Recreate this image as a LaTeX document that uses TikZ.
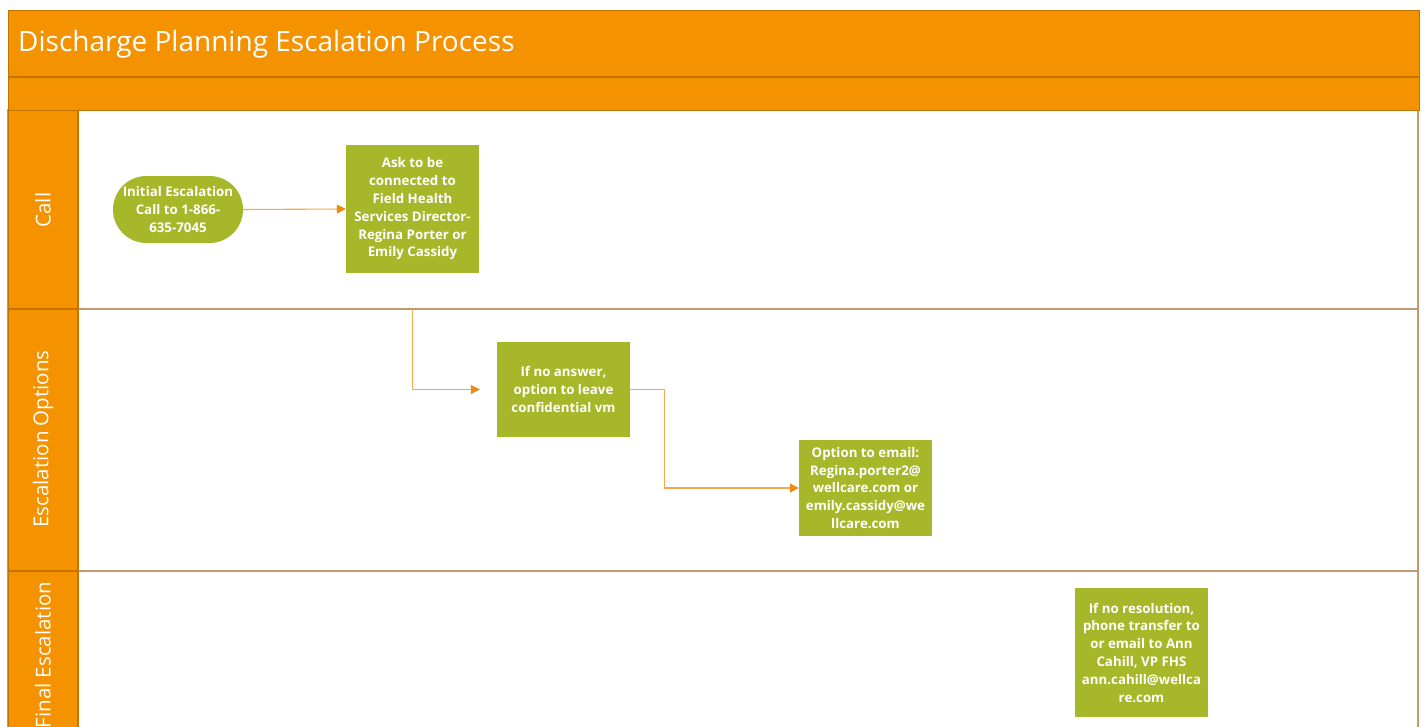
\documentclass[tikz,border=0pt]{standalone}
\usepackage{fontspec}
\setmainfont{Open Sans}
\usetikzlibrary{arrows.meta,shapes.misc}
\definecolor{hdr}{HTML}{F49200}
\definecolor{hdredge}{HTML}{C27300}
\definecolor{lanebr}{HTML}{BF9A70}
\definecolor{boxg}{HTML}{A6B72A}
\definecolor{conn}{HTML}{F6A84E}
\definecolor{tip}{HTML}{EE8A12}
\tikzset{
  boxstyle/.style={fill=boxg, draw=none, text=white, align=center,
    font=\bfseries\fontsize{13.3}{17.8}\selectfont, inner sep=1pt},
  flowbox/.style={boxstyle, rectangle, minimum width=133pt},
  startbox/.style={boxstyle, rounded rectangle, minimum width=132pt, minimum height=67pt},
  connline/.style={draw=conn, line width=1.1pt, -{Triangle[length=9pt,width=9pt,color=tip]}},
  lanelabel/.style={text=white, rotate=90, font=\fontsize{20.5}{22}\selectfont, inner sep=0pt},
  lanebox/.style={draw=lanebr, line width=1.2pt, fill=white}
}
\begin{document}
\begin{tikzpicture}[x=1pt,y=-1pt]
\useasboundingbox (0,0) rectangle (1425,726);
\clip (0,0) rectangle (1425,726);
\fill[white] (0,0) rectangle (1425,726);
% lanes
\draw[lanebox] (8,110) rectangle (1418,309);
\draw[lanebox] (8,309) rectangle (1418,571);
\draw[lanebox] (8,571) rectangle (1418,760);
% lane label column
\fill[hdr] (8,110) rectangle (78,760);
\draw[hdredge, line width=1.2pt] (78,110) -- (78,760);
\draw[hdredge, line width=1.2pt] (8,309) -- (78,309);
\draw[hdredge, line width=1.2pt] (8,571) -- (78,571);
\draw[hdredge, line width=1pt] (8,110) -- (8,760);
% header
\fill[hdr] (8,10) rectangle (1419,110);
\draw[hdredge, line width=1pt] (8,10) rectangle (1419,110);
\draw[hdredge, line width=1.2pt] (8,77) -- (1419,77);
\node[anchor=west, text=white, font=\fontsize{28}{32}\selectfont, inner sep=0pt] (title) at (18,44) {Discharge Planning Escalation Process};
% lane labels
\node[lanelabel] (l1) at (43,210) {Call};
\node[lanelabel] (l2) at (43,439) {Escalation Options};
\node[lanelabel] (l3) at (43,655) {Final Escalation};
% nodes
\node[startbox] (init) at (178,209.5) {Initial Escalation\\Call to 1-866-\\635-7045};
\node[flowbox, minimum height=128pt] (ask) at (412.5,209) {Ask to be\\connected to\\Field Health\\Services Director-\\Regina Porter or\\Emily Cassidy};
\node[flowbox, minimum height=95pt] (noans) at (563.5,389.5) {If no answer,\\option to leave\\confidential vm};
\node[flowbox, minimum height=96pt] (email) at (865.5,488) {Option to email:\\Regina.porter2@\\wellcare.com or\\emily.cassidy@we\\llcare.com};
\node[flowbox, minimum height=129pt] (final) at (1141.5,652.5) {If no resolution,\\phone transfer to\\or email to Ann\\Cahill, VP FHS\\ann.cahill@wellca\\re.com};
% connectors
\coordinate (c1) at (412.5,309);
\draw[connline] (init.east) -- (ask.west);
\draw[connline, shorten >=17pt] (c1) |- (noans.west);
\draw[connline] (noans.east) -- ++(34,0) |- (email.west);
\end{tikzpicture}
\end{document}
